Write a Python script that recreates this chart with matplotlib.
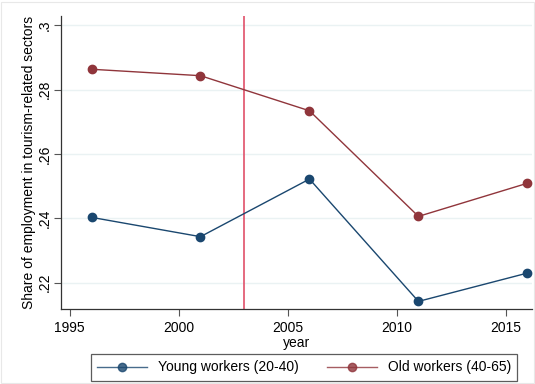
import matplotlib
matplotlib.use("Agg")
import matplotlib.pyplot as plt
from matplotlib.patches import Rectangle

plt.rcParams['font.family'] = ['Liberation Sans', 'DejaVu Sans']

years = [1996, 2001, 2006, 2011, 2016]
young = [0.2403, 0.2343, 0.2522, 0.2142, 0.2230]
old = [0.2863, 0.2843, 0.2734, 0.2406, 0.2509]
reform_year = 2003
xticks = [1995, 2000, 2005, 2010, 2015]
yticks = [0.22, 0.24, 0.26, 0.28, 0.30]
ytick_labels = ['.22', '.24', '.26', '.28', '.3']

blue = '#1a476f'
red = '#90353b'

fig = plt.figure(figsize=(5.35, 3.84), dpi=100)
fig.patch.set_facecolor('white')
ax = fig.add_axes([0.114, 0.195, 0.880, 0.763])

for y in yticks:
    ax.axhline(y, color='#eaf2f3', lw=1.0, zorder=0)

ax.axvline(reform_year, color='#e0506a', lw=1.2, zorder=1)

ax.plot(years, young, color=blue, lw=1.0, marker='o', ms=6,
        label='Young workers (20-40)', zorder=3)
ax.plot(years, old, color=red, lw=1.0, marker='o', ms=6,
        label='Old workers (40-65)', zorder=3)

ax.set_xlim(1994.6, 2016.2)
ax.set_ylim(0.2118, 0.3028)
ax.set_xticks(xticks)
ax.set_yticks(yticks)
ax.set_yticklabels(ytick_labels, rotation=90, va='center')

for s in ['top', 'right']:
    ax.spines[s].set_visible(False)
for s in ['left', 'bottom']:
    ax.spines[s].set_color('#333333')
    ax.spines[s].set_linewidth(0.9)
ax.tick_params(axis='both', colors='#555555', labelcolor='black',
               labelsize=10, length=5, width=0.8)
ax.tick_params(axis='y', pad=2)

ax.set_xlabel('year', fontsize=10, labelpad=1)
ax.set_ylabel('Share of employment in tourism-related sectors', fontsize=10, labelpad=1)

leg = fig.legend(loc='center', bbox_to_anchor=(0.568, 0.043), ncol=2,
                 frameon=True, fancybox=False, fontsize=10,
                 handlelength=3.6, columnspacing=2.0, borderpad=0.45,
                 handletextpad=0.8)
leg.get_frame().set_edgecolor('#333333')
leg.get_frame().set_linewidth(0.9)
for h in leg.get_lines():
    h.set_alpha(0.8)

fig.patches.append(Rectangle((0.002, 0.002), 0.996, 0.994, transform=fig.transFigure,
                             fill=False, edgecolor='#e8e8e8', lw=0.8))

fig.savefig('out.png', dpi=100)
